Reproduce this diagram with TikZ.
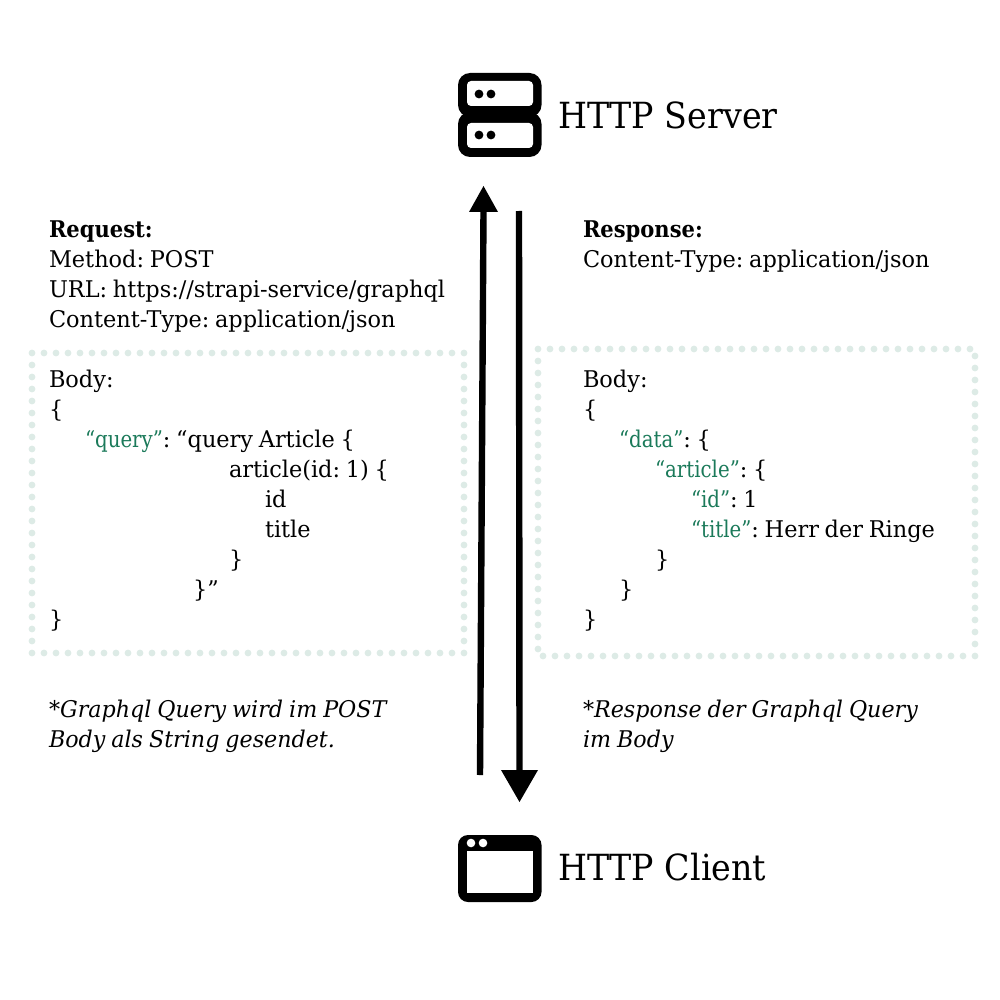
\documentclass[tikz,border=0pt]{standalone}
\usepackage{fontspec}
\setmainfont[FakeStretch=0.975,WordSpace=0.8,BoldFeatures={FakeStretch=0.915},ItalicFeatures={FakeStretch=0.965,WordSpace=0.85}]{DejaVu Serif}
\newfontfamily\bigf[FakeStretch=0.924]{DejaVu Serif}
\definecolor{codegreen}{HTML}{1B7A5A}
\definecolor{dotc}{HTML}{DDEBE6}
\newcommand{\gr}[1]{\textcolor{codegreen}{\addfontfeature{FakeStretch=0.86}#1}}
\tikzset{
 txt/.style={anchor=base west,inner sep=0pt,outer sep=0pt,font=\fontsize{23}{26}\selectfont},
 note/.style={txt,font=\fontsize{23}{26}\selectfont\itshape},
 big/.style={anchor=base west,inner sep=0pt,outer sep=0pt,font=\bigf\fontsize{36}{40}\selectfont},
 shaft/.style={draw=black,line width=6.4pt},
 head/.style={fill=black,draw=none},
 dotfill/.style={fill=dotc,draw=none}
}
\begin{document}
\frenchspacing
\begin{tikzpicture}[x=1pt,y=-1pt]
\useasboundingbox (0,0) rectangle (1000,1000);
\fill[white] (0,0) rectangle (1000,1000);
% server icon
\fill[black,rounded corners=12pt] (458,73) rectangle (541.5,117);
\fill[black,rounded corners=12pt] (458,112) rectangle (541.5,157);
\fill[white,rounded corners=4pt] (467,81) rectangle (533,106);
\fill[white,rounded corners=4pt] (467,123) rectangle (533,148);
\foreach \x in {479,491}{\fill[black] (\x,94) circle (4.4pt);\fill[black] (\x,135) circle (4.4pt);}
% client icon
\fill[black,rounded corners=10pt] (458,835) rectangle (541.5,902);
\fill[white] (467,851) rectangle (533,893);
\foreach \x in {471,483}{\fill[white] (\x,843) circle (4.3pt);}
\node[big] (server) at (558,129) {HTTP Server};
\node[big] (client) at (558,880) {HTTP Client};
% dotted boxes
\foreach \k in {0,...,36}{
 \fill[dotfill] ({32+12*\k},353) circle (3.4pt);
 \fill[dotfill] ({32+12*\k},653) circle (3.4pt);
 \fill[dotfill] ({538+12*\k},349) circle (3.4pt);
 \fill[dotfill] ({543+12*\k},656) circle (3.4pt);
}
\foreach \k in {1,...,24}{
 \fill[dotfill] (32,{353+12*\k}) circle (3.4pt);
 \fill[dotfill] (464,{353+12*\k}) circle (3.4pt);
}
\foreach \k in {1,...,25}{
 \fill[dotfill] (538,{349+12*\k}) circle (3.4pt);
}
\foreach \k in {0,...,24}{
 \fill[dotfill] (975,{356+12*\k}) circle (3.4pt);
}
% arrows
\coordinate (upS) at (480,775);
\coordinate (upE) at (483.5,210);
\coordinate (upT) at (483.5,186);
\coordinate (dnS) at (519,211);
\coordinate (dnE) at (519.5,772);
\coordinate (dnT) at (519.5,802);
\draw[shaft] (upS) -- (upE);
\fill[head] (upT) -- (498,212) -- (469,212) -- cycle;
\draw[shaft] (dnS) -- (dnE);
\fill[head] (dnT) -- (538,770) -- (501,770) -- cycle;
% left
\node[txt] (a1) at (49,237) {\textbf{Request:}};
\node[txt] (a2) at (49,267) {Method: POST};
\node[txt] (a3) at (49,297) {URL: https://strapi-service/graphql};
\node[txt] (a4) at (49,327) {Content-Type: application/json};
\node[txt] (b1) at (49,387) {Body:};
\node[txt] (b2) at (49,417) {\{};
\node[txt] (b3) at (85,447) {\gr{“query”}: “query Article \{};
\node[txt] (b4) at (229,477) {article(id: 1) \{};
\node[txt] (b5) at (265,507) {id};
\node[txt] (b6) at (265,537) {title};
\node[txt] (b7) at (229,567) {\}};
\node[txt] (b8) at (193,597) {\}”};
\node[txt] (b9) at (49,627) {\}};
\node[note] (n1) at (49,717) {*Graphql Query wird im POST};
\node[note] (n2) at (49,747) {Body als String gesendet.};
% right
\node[txt] (c1) at (583,237) {\textbf{Response:}};
\node[txt] (c2) at (583,267) {Content-Type: application/json};
\node[txt] (d1) at (583,387) {Body:};
\node[txt] (d2) at (583,417) {\{};
\node[txt] (d3) at (619,447) {\gr{“data”}: \{};
\node[txt] (d4) at (655,477) {\gr{“article”}: \{};
\node[txt] (d5) at (691,507) {\gr{“id”}: 1};
\node[txt] (d6) at (691,537) {\gr{“title”}: Herr der Ringe};
\node[txt] (d7) at (655,567) {\}};
\node[txt] (d8) at (619,597) {\}};
\node[txt] (d9) at (583,627) {\}};
\node[note] (m1) at (583,717) {*Response der Graphql Query};
\node[note] (m2) at (583,747) {im Body};
\end{tikzpicture}
\end{document}
